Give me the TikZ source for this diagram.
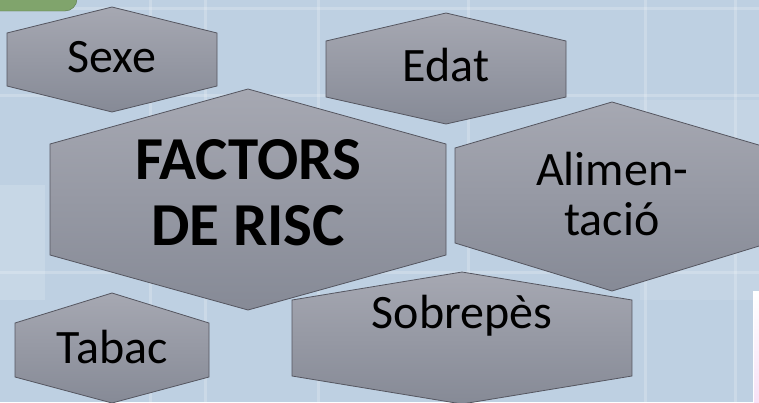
\documentclass[tikz,border=0pt]{standalone}
\usepackage{fontspec}
\setmainfont{Carlito}
\usetikzlibrary{positioning}

\definecolor{bgblue}{RGB}{190,208,226}
\definecolor{hexTop}{RGB}{166,168,178}
\definecolor{hexBot}{RGB}{134,138,150}
\definecolor{hexEdge}{RGB}{85,86,96}
\definecolor{tabGreen}{RGB}{128,164,108}
\definecolor{tabEdge}{RGB}{88,118,72}
\definecolor{pinkBox}{RGB}{248,222,244}

\tikzset{
  hexcell/.style={draw=hexEdge, line width=0.8pt, top color=hexTop, bottom color=hexBot, line join=miter},
  hexlabel/.style={font=\fontsize{48}{50}\selectfont, align=center, anchor=base, inner sep=0pt},
  mainlabel/.style={font=\fontsize{61}{66}\selectfont\bfseries, align=center, anchor=base, inner sep=0pt},
  streak/.style={white, opacity=0.2, line width=3pt}
}

\begin{document}
\begin{tikzpicture}[x=1pt, y=-1pt]
	\useasboundingbox (0,0) rectangle (759,402);
	% Background
	\fill[bgblue] (0,0) rectangle (759,402);
	\fill[white, opacity=0.15] (0,185) rectangle (45,300);
	\fill[white, opacity=0.1] (640,100) rectangle (759,300);
	\foreach \sx in {150,205,318,468,645,735} {
		\draw[streak] (\sx,0) -- (\sx,402);
	}
	\foreach \sy in {8,95,272} {
		\draw[streak] (0,\sy) -- (759,\sy);
	}
	% Corner pieces
	\draw[fill=tabGreen, draw=tabEdge, rounded corners=12pt] (-20,-20) rectangle (77,11);
	\shade[top color=white, bottom color=pinkBox] (753,291) rectangle (770,410);
	\draw[white, line width=1pt] (753.5,410) -- (753.5,291.5) -- (770,291.5);

	% Hexagons: centre x / top / half width / side top / side bottom / bottom
	\foreach \cx/\ty/\hw/\sa/\sb/\by in {112/7/105/33/86/112, 446/13/120/41/97/124,
		248/89/198/144/255/310, 612/102/157/148/243/291,
		112/293/97/323/377/403, 462/272/170/300/376/404} {
		\draw[hexcell] (\cx,\ty) -- (\cx+\hw,\sa) -- (\cx+\hw,\sb) -- (\cx,\by)
			-- (\cx-\hw,\sb) -- (\cx-\hw,\sa) -- cycle;
	}

	% Labels (base = last line)
	\node[hexlabel] (sexe) at (112,72) {Sexe};
	\node[hexlabel] (edat) at (446,81) {Edat};
	\node[mainlabel] (factors) at (248,245) {FACTORS\\DE RISC};
	\node[hexlabel] (aliment) at (612,235) {Alimen-\\tació};
	\node[hexlabel] (tabac) at (112,363) {Tabac};
	\node[hexlabel] (sobrepes) at (462,328) {Sobrepès};
\end{tikzpicture}
\end{document}
